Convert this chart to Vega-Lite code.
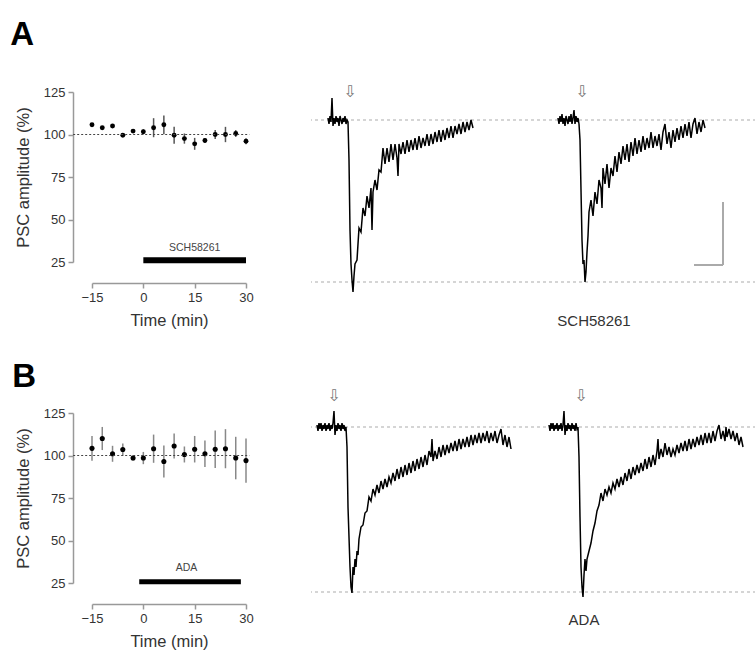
{
"$schema": "https://vega.github.io/schema/vega-lite/v6.json",
"background": "white",
"padding": {"left": 10, "top": 18, "right": 0, "bottom": 0},
"spacing": 321,
"bounds": "flush",
"config": {
  "view": {"stroke": null},
  "font": "Liberation Sans",
  "axis": {"grid": false, "labelFlush": false, "domainColor": "#999", "tickColor": "#999", "domainWidth": 1.5, "tickWidth": 1.5, "labelColor": "#333", "titleColor": "#333", "labelFont": "Liberation Sans", "titleFont": "Liberation Sans", "labelFontSize": 13, "titleFontSize": 16.5, "titleFontWeight": "normal", "tickSize": 5, "labelPadding": 3},
  "axisX": {"offset": 21, "titlePadding": 8},
  "axisY": {"offset": 19, "titlePadding": 12}
},
"vconcat": [
{
 "spacing": 65,
 "bounds": "flush",
 "hconcat": [
  {
   "width": 154, "height": 170,
   "title": {"text": "A", "fontSize": 33, "fontWeight": "bold", "anchor": "start", "frame": "bounds", "baseline": "alphabetic", "offset": 8.5, "dx": -5, "color": "#000", "font": "Liberation Sans"},
   "data": {"values": [
    {"t": -15, "m": 105.7, "lo": 104.7, "hi": 106.7},
    {"t": -12, "m": 104, "lo": 103, "hi": 105},
    {"t": -9, "m": 105, "lo": 104, "hi": 106},
    {"t": -6, "m": 99.6, "lo": 98.6, "hi": 100.6},
    {"t": -3, "m": 102, "lo": 101, "hi": 103},
    {"t": 0, "m": 101.6, "lo": 100.1, "hi": 103.1},
    {"t": 3, "m": 104, "lo": 98.4, "hi": 109.6},
    {"t": 6, "m": 105.7, "lo": 100.2, "hi": 111.2},
    {"t": 9, "m": 99.6, "lo": 94.6, "hi": 104.6},
    {"t": 12, "m": 97.6, "lo": 94.6, "hi": 100.6},
    {"t": 15, "m": 94.5, "lo": 91, "hi": 98},
    {"t": 18, "m": 96.5, "lo": 95, "hi": 98},
    {"t": 21, "m": 100, "lo": 97.3, "hi": 102.7},
    {"t": 24, "m": 100, "lo": 95.5, "hi": 104.5},
    {"t": 27, "m": 100.6, "lo": 98.6, "hi": 102.6},
    {"t": 30, "m": 96, "lo": 94.2, "hi": 97.8}
   ]},
   "layer": [
    {"mark": {"type": "rule", "color": "#555", "strokeWidth": 1.5},
     "encoding": {"x": {"field": "t", "type": "quantitative", "scale": {"domain": [-15, 30], "nice": false}, "title": "Time (min)", "axis": {"values": [-15, 0, 15, 30]}},
                  "y": {"field": "lo", "type": "quantitative", "scale": {"domain": [25, 125], "nice": false}, "title": "PSC amplitude (%)", "axis": {"values": [25, 50, 75, 100, 125]}},
                  "y2": {"field": "hi"}}},
    {"mark": {"type": "circle", "size": 24, "color": "#000", "opacity": 1},
     "encoding": {"x": {"field": "t", "type": "quantitative", "scale": {"domain": [-15, 30], "nice": false}, "title": "Time (min)", "axis": {"values": [-15, 0, 15, 30]}},
                  "y": {"field": "m", "type": "quantitative", "scale": {"domain": [25, 125], "nice": false}, "title": "PSC amplitude (%)", "axis": {"values": [25, 50, 75, 100, 125]}}}},
    {"data": {"values": [{}]},
     "mark": {"type": "rule", "strokeDash": [2, 2], "color": "#444", "strokeWidth": 1},
     "encoding": {"x": {"datum": -20.5, "type": "quantitative", "scale": {"domain": [-15, 30], "nice": false}, "title": "Time (min)", "axis": {"values": [-15, 0, 15, 30]}}, "x2": {"datum": 31},
                  "y": {"datum": 100, "type": "quantitative", "scale": {"domain": [25, 125], "nice": false}, "title": "PSC amplitude (%)", "axis": {"values": [25, 50, 75, 100, 125]}}}},
    {"data": {"values": [{"drug": "SCH58261", "start": 0, "end": 30}]},
     "layer": [
      {"mark": {"type": "rule", "color": "#000", "strokeWidth": 6},
       "encoding": {"x": {"field": "start", "type": "quantitative", "scale": {"domain": [-15, 30], "nice": false}, "title": "Time (min)", "axis": {"values": [-15, 0, 15, 30]}}, "x2": {"field": "end"},
                    "y": {"datum": 26, "type": "quantitative", "scale": {"domain": [25, 125], "nice": false}, "title": "PSC amplitude (%)", "axis": {"values": [25, 50, 75, 100, 125]}}}},
      {"mark": {"type": "text", "fontSize": 10.5, "color": "#444", "baseline": "middle"},
       "encoding": {"x": {"datum": 15, "type": "quantitative", "scale": {"domain": [-15, 30], "nice": false}, "title": "Time (min)", "axis": {"values": [-15, 0, 15, 30]}},
                    "y": {"datum": 33.5, "type": "quantitative", "scale": {"domain": [25, 125], "nice": false}, "title": "PSC amplitude (%)", "axis": {"values": [25, 50, 75, 100, 125]}},
                    "text": {"field": "drug"}}}
     ]}
   ]
  },
  {
   "width": 445, "height": 170,
   "data": {"values": [
    {"s":1,"t":17,"a":1},{"s":1,"t":18,"a":-2},{"s":1,"t":19,"a":2},{"s":1,"t":20,"a":-1},{"s":1,"t":21,"a":11},{"s":1,"t":22,"a":-3},{"s":1,"t":23,"a":1},{"s":1,"t":24,"a":-2},{"s":1,"t":25,"a":2},{"s":1,"t":26,"a":-1},{"s":1,"t":27,"a":1},{"s":1,"t":28,"a":-3},{"s":1,"t":29,"a":2},{"s":1,"t":30,"a":0},{"s":1,"t":31,"a":-2},{"s":1,"t":32,"a":1},{"s":1,"t":33,"a":-1},{"s":1,"t":34,"a":2},{"s":1,"t":35,"a":-2},{"s":1,"t":36,"a":0},{"s":1,"t":37,"a":-1},
    {"s":1,"t":38,"a":-20},{"s":1,"t":39,"a":-55},{"s":1,"t":40,"a":-72},{"s":1,"t":41,"a":-80},{"s":1,"t":42,"a":-86},{"s":1,"t":43,"a":-78},{"s":1,"t":44,"a":-72},{"s":1,"t":46,"a":-70},{"s":1,"t":48,"a":-54},{"s":1,"t":50,"a":-56},{"s":1,"t":52,"a":-44},{"s":1,"t":54,"a":-48},{"s":1,"t":56,"a":-38},{"s":1,"t":58,"a":-44},{"s":1,"t":60,"a":-34},{"s":1,"t":61,"a":-55},{"s":1,"t":62,"a":-36},{"s":1,"t":64,"a":-30},{"s":1,"t":66,"a":-35},{"s":1,"t":68,"a":-25},{"s":1,"t":70,"a":-26},{"s":1,"t":72,"a":-14},{"s":1,"t":74,"a":-22},{"s":1,"t":76,"a":-14},{"s":1,"t":78,"a":-21},{"s":1,"t":80,"a":-12},{"s":1,"t":82,"a":-20},{"s":1,"t":84,"a":-12},{"s":1,"t":86,"a":-19},{"s":1,"t":87,"a":-28},{"s":1,"t":88,"a":-12},{"s":1,"t":90,"a":-17},{"s":1,"t":92,"a":-11},{"s":1,"t":94,"a":-17},{"s":1,"t":96,"a":-10},{"s":1,"t":98,"a":-16},{"s":1,"t":100,"a":-10},{"s":1,"t":102,"a":-15},{"s":1,"t":104,"a":-9},{"s":1,"t":106,"a":-15},{"s":1,"t":108,"a":-8},{"s":1,"t":110,"a":-14},{"s":1,"t":112,"a":-9},{"s":1,"t":114,"a":-13},{"s":1,"t":116,"a":-7},{"s":1,"t":118,"a":-13},{"s":1,"t":120,"a":-7},{"s":1,"t":122,"a":-12},{"s":1,"t":124,"a":-6},{"s":1,"t":126,"a":-11},{"s":1,"t":128,"a":-5},{"s":1,"t":130,"a":-11},{"s":1,"t":132,"a":-5},{"s":1,"t":134,"a":-10},{"s":1,"t":136,"a":-4},{"s":1,"t":138,"a":-9},{"s":1,"t":140,"a":-3},{"s":1,"t":142,"a":-9},{"s":1,"t":144,"a":-3},{"s":1,"t":146,"a":-7},{"s":1,"t":148,"a":-2},{"s":1,"t":150,"a":-7},{"s":1,"t":152,"a":-1},{"s":1,"t":154,"a":-6},{"s":1,"t":156,"a":-1},{"s":1,"t":158,"a":-5},{"s":1,"t":160,"a":0},{"s":1,"t":162,"a":-4},
    {"s":2,"t":247,"a":1},{"s":2,"t":248,"a":-2},{"s":2,"t":249,"a":2},{"s":2,"t":250,"a":-1},{"s":2,"t":251,"a":3},{"s":2,"t":252,"a":-2},{"s":2,"t":253,"a":1},{"s":2,"t":254,"a":-3},{"s":2,"t":255,"a":2},{"s":2,"t":256,"a":0},{"s":2,"t":257,"a":-2},{"s":2,"t":258,"a":2},{"s":2,"t":259,"a":-1},{"s":2,"t":260,"a":3},{"s":2,"t":261,"a":-2},{"s":2,"t":262,"a":1},{"s":2,"t":263,"a":5},{"s":2,"t":264,"a":-2},{"s":2,"t":265,"a":2},{"s":2,"t":266,"a":-1},{"s":2,"t":267,"a":1},{"s":2,"t":268,"a":-2},
    {"s":2,"t":269,"a":-10},{"s":2,"t":270,"a":-35},{"s":2,"t":271,"a":-60},{"s":2,"t":272,"a":-72},{"s":2,"t":273,"a":-70},{"s":2,"t":274,"a":-81},{"s":2,"t":275,"a":-76},{"s":2,"t":276,"a":-66},{"s":2,"t":277,"a":-58},{"s":2,"t":278,"a":-46},{"s":2,"t":280,"a":-40},{"s":2,"t":282,"a":-48},{"s":2,"t":284,"a":-36},{"s":2,"t":286,"a":-42},{"s":2,"t":288,"a":-30},{"s":2,"t":290,"a":-34},{"s":2,"t":291,"a":-44},{"s":2,"t":292,"a":-24},{"s":2,"t":294,"a":-32},{"s":2,"t":296,"a":-22},{"s":2,"t":298,"a":-34},{"s":2,"t":300,"a":-24},{"s":2,"t":302,"a":-28},{"s":2,"t":304,"a":-18},{"s":2,"t":306,"a":-26},{"s":2,"t":308,"a":-16},{"s":2,"t":310,"a":-22},{"s":2,"t":312,"a":-13},{"s":2,"t":314,"a":-20},{"s":2,"t":316,"a":-12},{"s":2,"t":318,"a":-21},{"s":2,"t":320,"a":-11},{"s":2,"t":322,"a":-18},{"s":2,"t":324,"a":-9},{"s":2,"t":326,"a":-17},{"s":2,"t":328,"a":-10},{"s":2,"t":330,"a":-16},{"s":2,"t":332,"a":-8},{"s":2,"t":334,"a":-15},{"s":2,"t":336,"a":-9},{"s":2,"t":338,"a":-14},{"s":2,"t":340,"a":-6},{"s":2,"t":342,"a":-14},{"s":2,"t":344,"a":-8},{"s":2,"t":346,"a":-13},{"s":2,"t":348,"a":-7},{"s":2,"t":350,"a":-15},{"s":2,"t":352,"a":-6},{"s":2,"t":354,"a":-2},{"s":2,"t":356,"a":-12},{"s":2,"t":358,"a":-6},{"s":2,"t":360,"a":-14},{"s":2,"t":362,"a":-5},{"s":2,"t":364,"a":-11},{"s":2,"t":366,"a":-4},{"s":2,"t":368,"a":-10},{"s":2,"t":370,"a":-3},{"s":2,"t":372,"a":-9},{"s":2,"t":374,"a":-2},{"s":2,"t":376,"a":-8},{"s":2,"t":378,"a":-1},{"s":2,"t":380,"a":-9},{"s":2,"t":382,"a":-2},{"s":2,"t":384,"a":1},{"s":2,"t":386,"a":-7},{"s":2,"t":388,"a":-1},{"s":2,"t":390,"a":-6},{"s":2,"t":392,"a":0},{"s":2,"t":394,"a":-4}
   ]},
   "layer": [
    {"data": {"values": [{"lvl": 0}, {"lvl": -81}]},
     "mark": {"type": "rule", "strokeDash": [3, 3], "color": "#c8c8c8", "strokeWidth": 1.5},
     "encoding": {"y": {"field": "lvl", "type": "quantitative", "scale": {"domain": [-71, 14], "nice": false}, "axis": null}}},
    {"mark": {"type": "line", "color": "#000", "strokeWidth": 1.5},
     "encoding": {"x": {"field": "t", "type": "quantitative", "scale": {"domain": [0, 445], "nice": false}, "axis": null},
                  "y": {"field": "a", "type": "quantitative", "scale": {"domain": [-71, 14], "nice": false}, "axis": null},
                  "detail": {"field": "s"}, "order": {"field": "t"}}},
    {"data": {"values": [{"stim": 39}, {"stim": 271}]},
     "mark": {"type": "text", "text": "⇩", "font": "DejaVu Sans", "fontSize": 16, "color": "#777", "baseline": "middle"},
     "encoding": {"x": {"field": "stim", "type": "quantitative", "scale": {"domain": [0, 445], "nice": false}, "axis": null},
                  "y": {"datum": 14, "type": "quantitative", "scale": {"domain": [-71, 14], "nice": false}, "axis": null}}},
    {"data": {"values": [{"t0": 383, "t1": 412, "a0": -72.5, "a1": -41}]},
     "layer": [
      {"mark": {"type": "rule", "color": "#aaa", "strokeWidth": 2},
       "encoding": {"x": {"field": "t1", "type": "quantitative", "scale": {"domain": [0, 445], "nice": false}, "axis": null},
                    "y": {"field": "a0", "type": "quantitative", "scale": {"domain": [-71, 14], "nice": false}, "axis": null}, "y2": {"field": "a1"}}},
      {"mark": {"type": "rule", "color": "#aaa", "strokeWidth": 2},
       "encoding": {"x": {"field": "t0", "type": "quantitative", "scale": {"domain": [0, 445], "nice": false}, "axis": null}, "x2": {"field": "t1"},
                    "y": {"field": "a0", "type": "quantitative", "scale": {"domain": [-71, 14], "nice": false}, "axis": null}}}
     ]},
    {"data": {"values": [{"label": "SCH58261"}]},
     "mark": {"type": "text", "fontSize": 15, "color": "#333", "baseline": "middle"},
     "encoding": {"x": {"datum": 283, "type": "quantitative", "scale": {"domain": [0, 445], "nice": false}, "axis": null},
                  "y": {"datum": -100.5, "type": "quantitative", "scale": {"domain": [-71, 14], "nice": false}, "axis": null},
                  "text": {"field": "label"}}}
   ]
  }
 ]
},
{
 "spacing": 65,
 "bounds": "flush",
 "hconcat": [
  {
   "width": 154, "height": 170,
   "title": {"text": "B", "fontSize": 33, "fontWeight": "bold", "anchor": "start", "frame": "bounds", "baseline": "alphabetic", "offset": 0, "dy": 12.5, "dx": -3, "color": "#000", "font": "Liberation Sans"},
   "data": {"values": [
    {"t": -15, "m": 104.2, "lo": 96.9, "hi": 111.5},
    {"t": -12, "m": 110, "lo": 103.2, "hi": 116.8},
    {"t": -9, "m": 101, "lo": 96.3, "hi": 105.7},
    {"t": -6, "m": 103.5, "lo": 99.9, "hi": 107.1},
    {"t": -3, "m": 98.5, "lo": 97, "hi": 100},
    {"t": 0, "m": 98.5, "lo": 94.9, "hi": 102.1},
    {"t": 3, "m": 104, "lo": 95.7, "hi": 112.3},
    {"t": 6, "m": 96.5, "lo": 87.1, "hi": 105.9},
    {"t": 9, "m": 105.6, "lo": 98.3, "hi": 112.9},
    {"t": 12, "m": 100.6, "lo": 95.9, "hi": 105.3},
    {"t": 15, "m": 103.7, "lo": 95.9, "hi": 111.5},
    {"t": 18, "m": 101, "lo": 93.2, "hi": 108.8},
    {"t": 21, "m": 103.7, "lo": 92.7, "hi": 114.7},
    {"t": 24, "m": 104, "lo": 92.5, "hi": 115.5},
    {"t": 27, "m": 98.5, "lo": 86, "hi": 111},
    {"t": 30, "m": 97, "lo": 84, "hi": 110}
   ]},
   "layer": [
    {"mark": {"type": "rule", "color": "#888", "strokeWidth": 1.5},
     "encoding": {"x": {"field": "t", "type": "quantitative", "scale": {"domain": [-15, 30], "nice": false}, "title": "Time (min)", "axis": {"values": [-15, 0, 15, 30]}},
                  "y": {"field": "lo", "type": "quantitative", "scale": {"domain": [25, 125], "nice": false}, "title": "PSC amplitude (%)", "axis": {"values": [25, 50, 75, 100, 125]}},
                  "y2": {"field": "hi"}}},
    {"mark": {"type": "circle", "size": 26, "color": "#000", "opacity": 1},
     "encoding": {"x": {"field": "t", "type": "quantitative", "scale": {"domain": [-15, 30], "nice": false}, "title": "Time (min)", "axis": {"values": [-15, 0, 15, 30]}},
                  "y": {"field": "m", "type": "quantitative", "scale": {"domain": [25, 125], "nice": false}, "title": "PSC amplitude (%)", "axis": {"values": [25, 50, 75, 100, 125]}}}},
    {"data": {"values": [{}]},
     "mark": {"type": "rule", "strokeDash": [2, 2], "color": "#444", "strokeWidth": 1},
     "encoding": {"x": {"datum": -20.5, "type": "quantitative", "scale": {"domain": [-15, 30], "nice": false}, "title": "Time (min)", "axis": {"values": [-15, 0, 15, 30]}}, "x2": {"datum": 31},
                  "y": {"datum": 100, "type": "quantitative", "scale": {"domain": [25, 125], "nice": false}, "title": "PSC amplitude (%)", "axis": {"values": [25, 50, 75, 100, 125]}}}},
    {"data": {"values": [{"drug": "ADA", "start": -1.2, "end": 28.5}]},
     "layer": [
      {"mark": {"type": "rule", "color": "#000", "strokeWidth": 5},
       "encoding": {"x": {"field": "start", "type": "quantitative", "scale": {"domain": [-15, 30], "nice": false}, "title": "Time (min)", "axis": {"values": [-15, 0, 15, 30]}}, "x2": {"field": "end"},
                    "y": {"datum": 25.8, "type": "quantitative", "scale": {"domain": [25, 125], "nice": false}, "title": "PSC amplitude (%)", "axis": {"values": [25, 50, 75, 100, 125]}}}},
      {"mark": {"type": "text", "fontSize": 10.5, "color": "#444", "baseline": "middle"},
       "encoding": {"x": {"datum": 12.6, "type": "quantitative", "scale": {"domain": [-15, 30], "nice": false}, "title": "Time (min)", "axis": {"values": [-15, 0, 15, 30]}},
                    "y": {"datum": 33.8, "type": "quantitative", "scale": {"domain": [25, 125], "nice": false}, "title": "PSC amplitude (%)", "axis": {"values": [25, 50, 75, 100, 125]}},
                    "text": {"field": "drug"}}}
     ]}
   ]
  },
  {
   "width": 445, "height": 170,
   "data": {"values": [
    {"s":1,"t":6,"a":1},{"s":1,"t":7,"a":-2},{"s":1,"t":8,"a":2},{"s":1,"t":9,"a":-1},{"s":1,"t":10,"a":2},{"s":1,"t":11,"a":-2},{"s":1,"t":12,"a":1},{"s":1,"t":13,"a":-1},{"s":1,"t":14,"a":2},{"s":1,"t":15,"a":-2},{"s":1,"t":16,"a":1},{"s":1,"t":17,"a":-1},{"s":1,"t":18,"a":2},{"s":1,"t":19,"a":-2},{"s":1,"t":20,"a":1},{"s":1,"t":21,"a":-1},{"s":1,"t":22,"a":2},{"s":1,"t":23,"a":8},{"s":1,"t":24,"a":-4},{"s":1,"t":25,"a":1},{"s":1,"t":26,"a":-2},{"s":1,"t":27,"a":2},{"s":1,"t":28,"a":-1},{"s":1,"t":29,"a":1},{"s":1,"t":30,"a":-2},{"s":1,"t":31,"a":2},{"s":1,"t":32,"a":-1},{"s":1,"t":33,"a":1},{"s":1,"t":34,"a":-2},{"s":1,"t":35,"a":0},
    {"s":1,"t":36,"a":-10},{"s":1,"t":37,"a":-40},{"s":1,"t":39,"a":-70},{"s":1,"t":40,"a":-80},{"s":1,"t":41,"a":-83},{"s":1,"t":42,"a":-70},{"s":1,"t":43,"a":-74},{"s":1,"t":44,"a":-66},{"s":1,"t":45,"a":-70},{"s":1,"t":46,"a":-62},{"s":1,"t":47,"a":-64},{"s":1,"t":48,"a":-56},{"s":1,"t":50,"a":-50},{"s":1,"t":52,"a":-49},{"s":1,"t":54,"a":-43},{"s":1,"t":56,"a":-42},{"s":1,"t":58,"a":-35},{"s":1,"t":60,"a":-37},{"s":1,"t":62,"a":-31},{"s":1,"t":64,"a":-34},{"s":1,"t":66,"a":-29},{"s":1,"t":68,"a":-33},{"s":1,"t":70,"a":-27},{"s":1,"t":72,"a":-31},{"s":1,"t":74,"a":-26},{"s":1,"t":76,"a":-30},{"s":1,"t":78,"a":-25},{"s":1,"t":80,"a":-28},{"s":1,"t":82,"a":-23},{"s":1,"t":84,"a":-27},{"s":1,"t":86,"a":-21},{"s":1,"t":88,"a":-26},{"s":1,"t":90,"a":-20},{"s":1,"t":92,"a":-25},{"s":1,"t":94,"a":-19},{"s":1,"t":96,"a":-24},{"s":1,"t":98,"a":-18},{"s":1,"t":100,"a":-23},{"s":1,"t":102,"a":-17},{"s":1,"t":104,"a":-22},{"s":1,"t":106,"a":-16},{"s":1,"t":108,"a":-21},{"s":1,"t":110,"a":-15},{"s":1,"t":112,"a":-20},{"s":1,"t":114,"a":-14},{"s":1,"t":116,"a":-19},{"s":1,"t":118,"a":-12},{"s":1,"t":120,"a":-15},{"s":1,"t":121,"a":-6},{"s":1,"t":122,"a":-17},{"s":1,"t":124,"a":-12},{"s":1,"t":126,"a":-16},{"s":1,"t":128,"a":-10},{"s":1,"t":130,"a":-15},{"s":1,"t":132,"a":-9},{"s":1,"t":134,"a":-14},{"s":1,"t":136,"a":-9},{"s":1,"t":138,"a":-13},{"s":1,"t":140,"a":-8},{"s":1,"t":142,"a":-12},{"s":1,"t":144,"a":-7},{"s":1,"t":146,"a":-12},{"s":1,"t":148,"a":-6},{"s":1,"t":150,"a":-11},{"s":1,"t":152,"a":-6},{"s":1,"t":154,"a":-10},{"s":1,"t":156,"a":-5},{"s":1,"t":158,"a":-10},{"s":1,"t":160,"a":-4},{"s":1,"t":162,"a":-9},{"s":1,"t":164,"a":-4},{"s":1,"t":166,"a":-8},{"s":1,"t":168,"a":-3},{"s":1,"t":170,"a":-8},{"s":1,"t":172,"a":-3},{"s":1,"t":174,"a":-7},{"s":1,"t":176,"a":-2},{"s":1,"t":178,"a":-8},{"s":1,"t":180,"a":-3},{"s":1,"t":182,"a":-7},{"s":1,"t":184,"a":-2},{"s":1,"t":186,"a":-8},{"s":1,"t":188,"a":-4},{"s":1,"t":190,"a":-1},{"s":1,"t":192,"a":-9},{"s":1,"t":194,"a":-4},{"s":1,"t":196,"a":-10},{"s":1,"t":198,"a":-5},{"s":1,"t":200,"a":-11},
    {"s":2,"t":238,"a":1},{"s":2,"t":239,"a":-2},{"s":2,"t":240,"a":2},{"s":2,"t":241,"a":-1},{"s":2,"t":242,"a":2},{"s":2,"t":243,"a":-2},{"s":2,"t":244,"a":1},{"s":2,"t":245,"a":-1},{"s":2,"t":246,"a":2},{"s":2,"t":247,"a":-2},{"s":2,"t":248,"a":1},{"s":2,"t":249,"a":-1},{"s":2,"t":250,"a":2},{"s":2,"t":251,"a":-2},{"s":2,"t":252,"a":1},{"s":2,"t":253,"a":8},{"s":2,"t":254,"a":-4},{"s":2,"t":255,"a":1},{"s":2,"t":256,"a":-2},{"s":2,"t":257,"a":2},{"s":2,"t":258,"a":-1},{"s":2,"t":259,"a":1},{"s":2,"t":260,"a":-2},{"s":2,"t":261,"a":2},{"s":2,"t":262,"a":-1},{"s":2,"t":263,"a":1},{"s":2,"t":264,"a":-2},{"s":2,"t":265,"a":2},{"s":2,"t":266,"a":-1},{"s":2,"t":267,"a":0},
    {"s":2,"t":268,"a":-15},{"s":2,"t":269,"a":-45},{"s":2,"t":270,"a":-70},{"s":2,"t":271,"a":-80},{"s":2,"t":272,"a":-85},{"s":2,"t":273,"a":-74},{"s":2,"t":274,"a":-66},{"s":2,"t":275,"a":-72},{"s":2,"t":276,"a":-66},{"s":2,"t":278,"a":-62},{"s":2,"t":280,"a":-58},{"s":2,"t":282,"a":-52},{"s":2,"t":284,"a":-48},{"s":2,"t":286,"a":-42},{"s":2,"t":288,"a":-39},{"s":2,"t":290,"a":-33},{"s":2,"t":292,"a":-37},{"s":2,"t":294,"a":-31},{"s":2,"t":296,"a":-34},{"s":2,"t":298,"a":-30},{"s":2,"t":300,"a":-33},{"s":2,"t":302,"a":-28},{"s":2,"t":304,"a":-31},{"s":2,"t":306,"a":-26},{"s":2,"t":308,"a":-30},{"s":2,"t":310,"a":-25},{"s":2,"t":312,"a":-29},{"s":2,"t":314,"a":-23},{"s":2,"t":316,"a":-27},{"s":2,"t":318,"a":-21},{"s":2,"t":320,"a":-26},{"s":2,"t":322,"a":-20},{"s":2,"t":324,"a":-24},{"s":2,"t":326,"a":-19},{"s":2,"t":328,"a":-23},{"s":2,"t":330,"a":-18},{"s":2,"t":332,"a":-22},{"s":2,"t":334,"a":-16},{"s":2,"t":336,"a":-21},{"s":2,"t":338,"a":-15},{"s":2,"t":340,"a":-20},{"s":2,"t":342,"a":-14},{"s":2,"t":344,"a":-19},{"s":2,"t":346,"a":-12},{"s":2,"t":347,"a":-6},{"s":2,"t":348,"a":-16},{"s":2,"t":350,"a":-11},{"s":2,"t":352,"a":-15},{"s":2,"t":354,"a":-8},{"s":2,"t":356,"a":-14},{"s":2,"t":358,"a":-10},{"s":2,"t":360,"a":-15},{"s":2,"t":362,"a":-11},{"s":2,"t":364,"a":-14},{"s":2,"t":366,"a":-9},{"s":2,"t":368,"a":-13},{"s":2,"t":370,"a":-8},{"s":2,"t":372,"a":-12},{"s":2,"t":374,"a":-7},{"s":2,"t":376,"a":-12},{"s":2,"t":378,"a":-6},{"s":2,"t":380,"a":-11},{"s":2,"t":382,"a":-6},{"s":2,"t":384,"a":-10},{"s":2,"t":386,"a":-5},{"s":2,"t":388,"a":-9},{"s":2,"t":390,"a":-4},{"s":2,"t":392,"a":-9},{"s":2,"t":394,"a":-3},{"s":2,"t":396,"a":-8},{"s":2,"t":398,"a":-3},{"s":2,"t":400,"a":-8},{"s":2,"t":402,"a":-2},{"s":2,"t":404,"a":-7},{"s":2,"t":406,"a":-2},{"s":2,"t":408,"a":1},{"s":2,"t":410,"a":-6},{"s":2,"t":412,"a":-2},{"s":2,"t":414,"a":-7},{"s":2,"t":415,"a":0},{"s":2,"t":416,"a":-5},{"s":2,"t":418,"a":-1},{"s":2,"t":420,"a":-6},{"s":2,"t":422,"a":-2},{"s":2,"t":424,"a":-7},{"s":2,"t":426,"a":-3},{"s":2,"t":428,"a":-9},{"s":2,"t":430,"a":-5},{"s":2,"t":432,"a":-10}
   ]},
   "layer": [
    {"data": {"values": [{"lvl": 0}, {"lvl": -82.5}]},
     "mark": {"type": "rule", "strokeDash": [3, 3], "color": "#c8c8c8", "strokeWidth": 1.5},
     "encoding": {"y": {"field": "lvl", "type": "quantitative", "scale": {"domain": [-78, 7], "nice": false}, "axis": null}}},
    {"mark": {"type": "line", "color": "#000", "strokeWidth": 1.5},
     "encoding": {"x": {"field": "t", "type": "quantitative", "scale": {"domain": [0, 445], "nice": false}, "axis": null},
                  "y": {"field": "a", "type": "quantitative", "scale": {"domain": [-78, 7], "nice": false}, "axis": null},
                  "detail": {"field": "s"}, "order": {"field": "t"}}},
    {"data": {"values": [{"stim": 23}, {"stim": 270}]},
     "mark": {"type": "text", "text": "⇩", "font": "DejaVu Sans", "fontSize": 16, "color": "#777", "baseline": "middle"},
     "encoding": {"x": {"field": "stim", "type": "quantitative", "scale": {"domain": [0, 445], "nice": false}, "axis": null},
                  "y": {"datum": 15.5, "type": "quantitative", "scale": {"domain": [-78, 7], "nice": false}, "axis": null}}},
    {"data": {"values": [{"label": "ADA"}]},
     "mark": {"type": "text", "fontSize": 15, "color": "#333", "baseline": "middle"},
     "encoding": {"x": {"datum": 273, "type": "quantitative", "scale": {"domain": [0, 445], "nice": false}, "axis": null},
                  "y": {"datum": -96.5, "type": "quantitative", "scale": {"domain": [-78, 7], "nice": false}, "axis": null},
                  "text": {"field": "label"}}}
   ]
  }
 ]
}
]
}
